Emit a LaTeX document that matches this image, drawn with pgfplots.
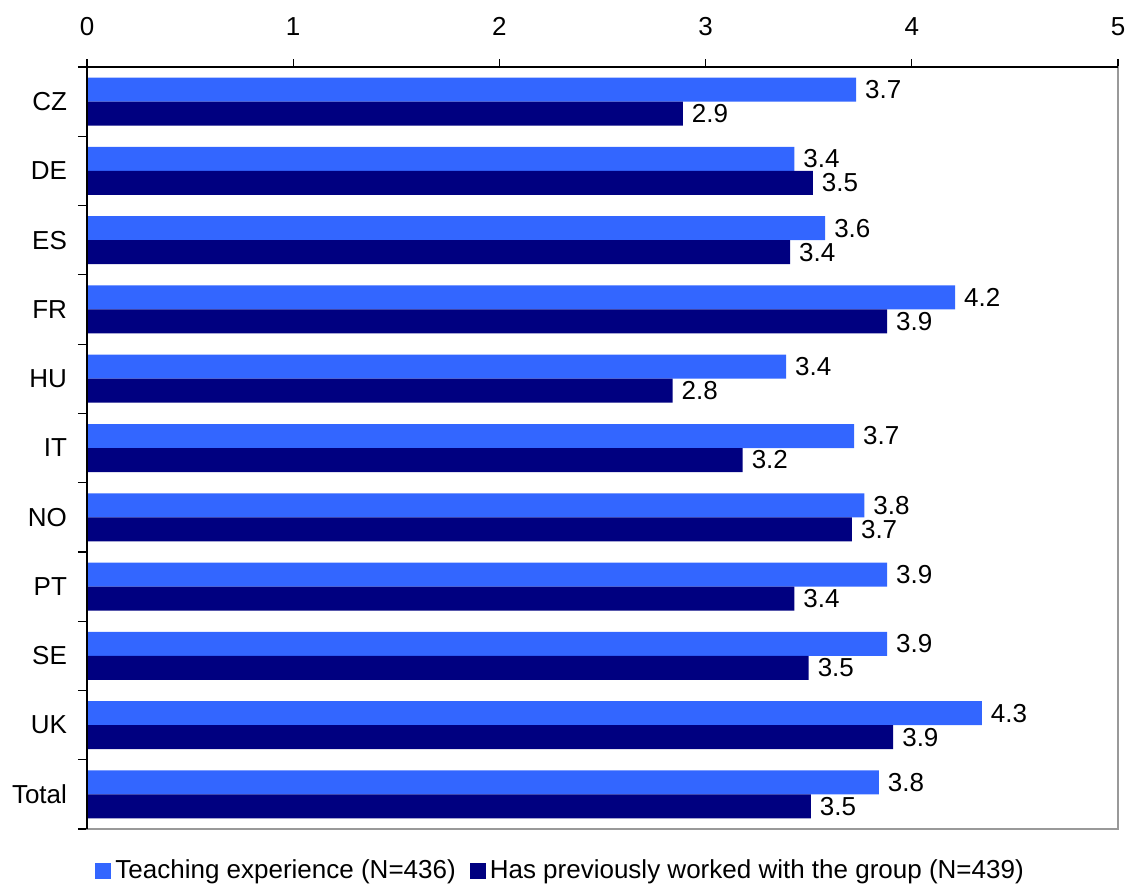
\documentclass[border=0pt]{standalone}
\usepackage{fontspec}
\setmainfont{Liberation Sans}
\usepackage{pgfplots}
\pgfplotsset{compat=1.18}
\definecolor{bblue}{HTML}{3366FF}
\definecolor{navyb}{HTML}{000080}
\begin{document}
\fontsize{13pt}{15pt}\selectfont
\begin{tikzpicture}
\path[use as bounding box] (-43.5pt,-28pt) rectangle (522pt,414.5pt);
\begin{axis}[
  at={(0,0)}, anchor=south west,
  scale only axis, width=515.5pt, height=381pt,
  xbar, bar width=12pt,
  xmin=0, xmax=5, xtick={0,1,2,3,4,5},
  xtick pos=right, xticklabel pos=right,
  ymin=-0.5, ymax=10.5, y dir=reverse,
  ytick={0,...,10},
  yticklabels={CZ,DE,ES,FR,HU,IT,NO,PT,SE,UK,Total},
  minor ytick={-0.5,0.5,...,10.5},
  ytick pos=left,
  tick align=outside,
  major tick length=4pt, minor tick length=4.5pt,
  major y tick style={draw=none},
  tick style={black, line width=0.6pt},
  axis line style={gray!80, line width=0.8pt},
  /pgf/number format/assume math mode=true,
  xticklabel style={font=\fontsize{13pt}{15pt}\selectfont, yshift=7pt},
  yticklabel style={font=\fontsize{13pt}{15pt}\selectfont, xshift=-1.5pt},
  nodes near coords={\pgfmathprintnumber[fixed,fixed zerofill,precision=1,assume math mode=true]{\pgfplotspointmeta}},
  nodes near coords align={horizontal},
  every node near coord/.append style={font=\fontsize{13pt}{15pt}\selectfont, black},
  legend style={at={(0.0078,-0.0551)}, anchor=west, draw=none, inner sep=0pt,
    legend columns=2, font=\fontsize{13pt}{15pt}\selectfont,
    /tikz/every even column/.append style={column sep=5pt}},
  legend image code/.code={\fill[#1] (0pt,-4pt) rectangle (8pt,4pt);},
  after end axis/.code={\draw[black, line width=0.8pt] (axis cs:0,10.5) -- (axis cs:0,-0.5) -- (axis cs:5,-0.5);},
]
\addplot[fill=bblue, draw=none, bar shift=6pt] coordinates {
  (3.73,0) (3.43,1) (3.58,2) (4.21,3) (3.39,4) (3.72,5) (3.77,6) (3.88,7) (3.88,8) (4.34,9) (3.84,10)};
\addplot[fill=navyb, draw=none, bar shift=-6pt] coordinates {
  (2.89,0) (3.52,1) (3.41,2) (3.88,3) (2.84,4) (3.18,5) (3.71,6) (3.43,7) (3.50,8) (3.91,9) (3.51,10)};
\legend{Teaching experience (N=436), Has previously worked with the group (N=439)}
\end{axis}
\end{tikzpicture}
\end{document}
